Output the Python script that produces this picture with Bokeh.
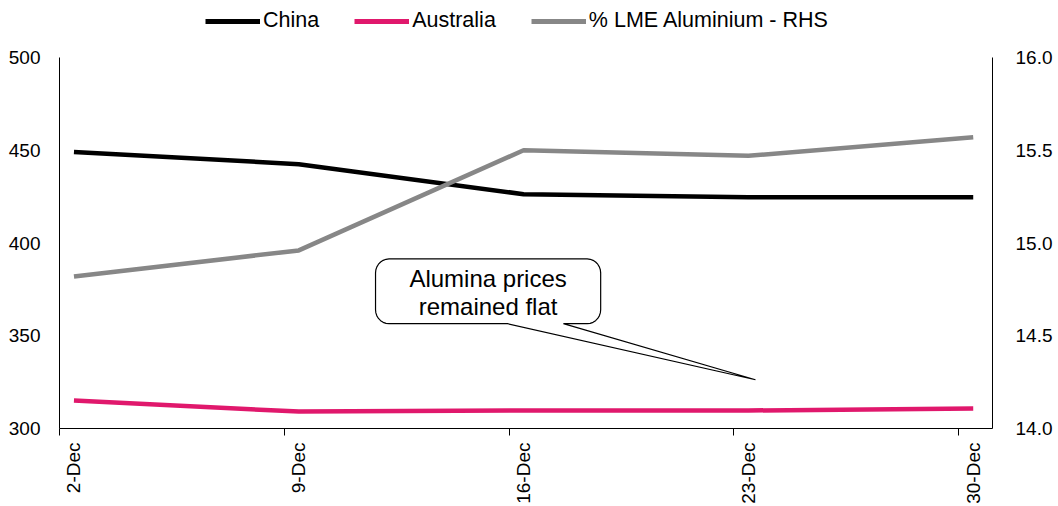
import math
import numpy as np
from bokeh.plotting import figure
from bokeh.layouts import column
from bokeh.models import (Range1d, LinearAxis, FixedTicker, Legend, LegendItem,
                          Label, ColumnDataSource)
from bokeh.embed import file_html
from bokeh.resources import INLINE

# ---- data ----
dates = ["2-Dec", "9-Dec", "16-Dec", "23-Dec", "30-Dec"]
day_index = [0, 7, 14, 21, 28]
china = [449.0, 442.5, 426.3, 424.7, 424.7]
australia = [315.1, 309.1, 309.7, 309.7, 310.8]
lme_pct = [14.82, 14.96, 15.50, 15.47, 15.57]
series_names = ["China", "Australia", "% LME Aluminium - RHS"]

FONT = "Liberation Sans"
FS = "19px"
PINK = "#E0186C"
GREY = "#878787"
COLORS = ["#000000", PINK, GREY]

x_start, x_end = -0.45, 28.6
y_lo, y_hi = 300, 500

TOP_H = 45

# ---------- legend strip on top ----------
top = figure(width=1058, height=TOP_H, output_backend="svg", toolbar_location=None,
             x_range=Range1d(0, 1), y_range=Range1d(0, 1),
             min_border_left=0, min_border_right=0, min_border_top=0, min_border_bottom=0,
             x_axis_location=None, y_axis_location=None)
top.grid.visible = False
top.outline_line_color = None
# legend proxies (kept outside the visible range of the strip)
leg_rs = [top.line(x=[-5, -4], y=[-5, -4], line_color=c, line_width=5) for c in COLORS]
legend = Legend(items=[LegendItem(label=n, renderers=[r]) for n, r in zip(series_names, leg_rs)],
                orientation="horizontal", location=(146, 12))
legend.glyph_width = 55
legend.glyph_height = 20
legend.label_standoff = 3
legend.spacing = 35
legend.padding = 0
legend.margin = 0
legend.border_line_color = None
legend.background_fill_alpha = 0
legend.label_text_font = FONT
legend.label_text_font_size = "21.5px"
legend.label_text_color = "#000000"
top.add_layout(legend, "center")

# ---------- main chart ----------
p = figure(width=1058, height=506 - TOP_H, output_backend="svg", toolbar_location=None,
           x_range=Range1d(x_start, x_end), y_range=Range1d(y_lo, y_hi),
           min_border_left=59, min_border_right=66, min_border_top=57 - TOP_H,
           min_border_bottom=70)
p.extra_y_ranges = {"rhs": Range1d(14.0, 16.0)}
p.grid.visible = False
p.outline_line_color = None

# left axis
ly = p.yaxis[0]
ly.ticker = FixedTicker(ticks=[300, 350, 400, 450, 500])
ly.major_tick_out = 0
ly.major_tick_in = 0
ly.minor_tick_line_color = None
ly.major_label_standoff = 19
ly.axis_line_color = "#000000"
ly.major_label_text_font = FONT
ly.major_label_text_font_size = FS
ly.major_label_text_color = "#000000"

# right axis
ry = LinearAxis(y_range_name="rhs", ticker=FixedTicker(ticks=[14.0, 14.5, 15.0, 15.5, 16.0]))
ry.major_tick_out = 0
ry.major_tick_in = 0
ry.minor_tick_line_color = None
ry.major_label_standoff = 23
ry.axis_line_color = "#000000"
ry.major_label_overrides = {14.0: "14.0", 14.5: "14.5", 15.0: "15.0", 15.5: "15.5", 16.0: "16.0"}
ry.major_label_text_font = FONT
ry.major_label_text_font_size = FS
ry.major_label_text_color = "#000000"
p.add_layout(ry, "right")

# bottom axis: tick marks at period boundaries, labels hidden
bx1 = p.xaxis[0]
bx1.ticker = FixedTicker(ticks=[d + x_start for d in day_index])
bx1.major_tick_out = 7
bx1.major_tick_in = 0
bx1.minor_tick_line_color = None
bx1.axis_line_color = "#000000"
bx1.major_label_text_font_size = "1px"
bx1.major_label_text_color = None
bx1.major_label_standoff = 0

# second bottom axis: date labels at the data points
bx2 = LinearAxis(ticker=FixedTicker(ticks=day_index))
bx2.major_label_overrides = {d: s for d, s in zip(day_index, dates)}
bx2.major_label_orientation = math.pi / 2
bx2.major_tick_out = 0
bx2.major_tick_in = 0
bx2.major_tick_line_color = None
bx2.minor_tick_line_color = None
bx2.axis_line_color = None
bx2.major_label_standoff = 7
bx2.major_label_text_font = FONT
bx2.major_label_text_font_size = FS
bx2.major_label_text_color = "#000000"
p.add_layout(bx2, "below")

src = ColumnDataSource(dict(x=day_index, china=china, aus=australia, lme=lme_pct))
p.line("x", "china", source=src, line_color=COLORS[0], line_width=4.5)
p.line("x", "aus", source=src, line_color=COLORS[1], line_width=4.5)
p.line("x", "lme", source=src, line_color=COLORS[2], line_width=4.5, y_range_name="rhs")

# ---- callout (rounded box with pointer), geometry in data units ----
box_l, box_r, box_t, box_b = 9.39, 16.40, 391.4, 356.5
tail_bl, tail_br = 13.50, 15.24
tip_x, tip_y = 21.22, 326.3
rx, ry_ = 0.42, 7.5  # corner radius (~14 px) in data units

def corner(cx, cy, a0, a1, n=8):
    t = np.linspace(a0, a1, n)
    return list(cx + rx * np.cos(t)), list(cy + ry_ * np.sin(t))

xs, ys = [], []
for (cx, cy, a0, a1) in [(box_r - rx, box_t - ry_, 0, math.pi / 2),
                         (box_l + rx, box_t - ry_, math.pi / 2, math.pi),
                         (box_l + rx, box_b + ry_, math.pi, 1.5 * math.pi)]:
    a, b = corner(cx, cy, a0, a1)
    xs += a
    ys += b
xs += [tail_bl, tip_x, tail_br]
ys += [box_b, tip_y, box_b]
a, b = corner(box_r - rx, box_b + ry_, 1.5 * math.pi, 2 * math.pi)
xs += a
ys += b
p.patch(xs, ys, fill_color="white", line_color="#000000", line_width=1.2)

cx = (box_l + box_r) / 2
p.add_layout(Label(x=cx, y=380.8, text="Alumina prices", text_align="center",
                   text_baseline="middle", text_font=FONT, text_font_size="24px",
                   text_color="#000000"))
p.add_layout(Label(x=cx, y=365.8, text="remained flat", text_align="center",
                   text_baseline="middle", text_font=FONT, text_font_size="24px",
                   text_color="#000000"))

layout = column(top, p, spacing=0)
open("out.html", "w").write(file_html(layout, INLINE))
